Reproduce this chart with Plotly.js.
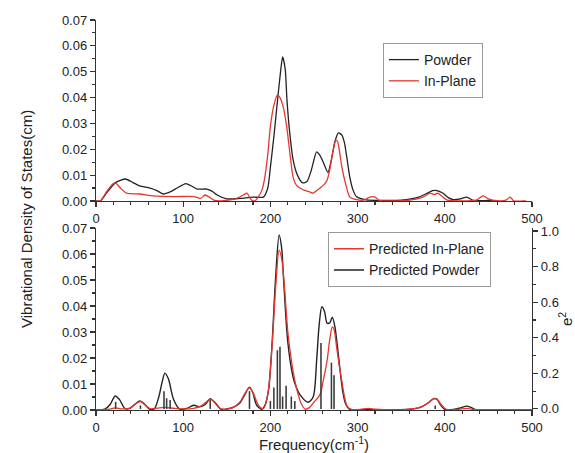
<!DOCTYPE html>
<html>
<head>
<meta charset="utf-8">
<script src="https://cdn.plot.ly/plotly-3.0.1.min.js"></script>
<style>html,body{margin:0;padding:0;background:#fff;}#chart{width:575px;height:453px;}</style>
</head>
<body>
<div id="chart"></div>
<script>
// ---- Top panel: measured DOS ----
const topPowderFreq = [0,5,12,22,34,42,50,62,70,77,85,93,103,110,116,127,133,139,150,165,180,192,197,200,204,207,211,214,217,219,222,226,231,237,242,247,253,257,261,266,270,274,278,282,285,288,291,295,299,310,330,350,370,380,386,391,398,404,410,418,425,433,450,460];
const topPowderDOS  = [0,0,0.003,0.007,0.0085,0.0072,0.0058,0.005,0.004,0.0027,0.0035,0.005,0.0067,0.0057,0.0046,0.0046,0.0038,0.0023,0.0008,0.001,0.0015,0.0015,0.005,0.013,0.025,0.035,0.048,0.0557,0.051,0.039,0.027,0.016,0.010,0.007,0.0075,0.012,0.019,0.0175,0.0147,0.011,0.016,0.023,0.0263,0.0255,0.0224,0.016,0.0093,0.004,0.0016,0.0004,0.0002,0.0003,0.0015,0.003,0.004,0.004,0.003,0.0013,0.0005,0.0008,0.0015,0.0002,0.0002,0];

const topInPlaneFreq = [0,5,12,20,23,28,35,50,66,90,112,120,125,130,135,143,160,169,173,178,182,186,190,193,197,200,204,208,211,215,219,226,230,234,240,245,249,253,257,262,265,268,271,275,277,279,282,286,291,299,308,314,320,325,340,360,375,383,388,392,396,403,420,436,444,450,460,470,475,479,490,493];
const topInPlaneDOS  = [0,0,0.0035,0.0068,0.0068,0.005,0.003,0.0027,0.002,0.0017,0.0017,0.001,0.0023,0.0015,0.0003,0,0.0008,0.0023,0.003,0.0005,0,0.0015,0.004,0.008,0.018,0.029,0.037,0.041,0.040,0.036,0.028,0.0093,0.006,0.005,0.004,0.0035,0.003,0.004,0.005,0.0065,0.008,0.012,0.018,0.0235,0.023,0.0197,0.013,0.007,0.0016,0.0005,0.0004,0.0015,0.0015,0.0002,0,0.0003,0.0015,0.003,0.0025,0.003,0.002,0.0003,0,0.0003,0.002,0.0008,0.0001,0.0003,0.0015,0,0,0];

// ---- Bottom panel: predicted DOS ----
const predPowderFreq = [0,10,16,22,27,33,38,44,50,55,62,67,72,76,79,83,89,96,104,112,119,125,131,136,143,150,157,165,170,176,180,184,190,194,198,202,206,210,213,215,220,226,230,234,243,249,253,256,259,262,265,268,271,274,277,280,283,286,291,310,330,360,372,380,387,391,395,400,410,418,425,430,436,450,500];
const predPowderDOS  = [0,0.0003,0.002,0.0054,0.004,0.0006,0.0005,0.002,0.0035,0.0025,0.0002,0.0005,0.005,0.011,0.0142,0.012,0.004,0.0003,0.0006,0.0018,0.0012,0.002,0.0043,0.003,0.0003,0.0004,0.001,0.0027,0.0055,0.0088,0.0065,0.002,0.0003,0.002,0.008,0.026,0.051,0.0673,0.062,0.051,0.026,0.0127,0.0085,0.0058,0.003,0.005,0.019,0.033,0.0397,0.038,0.0334,0.0335,0.0357,0.032,0.024,0.015,0.007,0.0026,0.0002,0.0003,0,0.0003,0.001,0.0025,0.0043,0.0042,0.002,0.0002,0.0002,0.0008,0.0015,0.001,0.0001,0,0];

const predInPlaneFreq = [0,15,22,30,40,46,51,56,62,70,79,90,100,112,120,126,131,137,143,152,160,166,171,176,181,186,192,197,202,206,210,213,216,220,226,231,236,240,245,250,257,261,265,268,271,273,276,279,282,285,288,293,305,312,320,340,365,375,382,388,392,396,402,415,425,435,450,500];
const predInPlaneDOS  = [0,0.0003,0.0008,0.0004,0.0008,0.0025,0.0032,0.002,0.0005,0.0007,0.001,0.0006,0.0004,0.0006,0.0015,0.003,0.0042,0.0028,0.0005,0.0004,0.0015,0.0035,0.0065,0.0085,0.006,0.002,0.0005,0.006,0.025,0.047,0.0615,0.058,0.048,0.030,0.015,0.007,0.002,0.0003,0.001,0.003,0.006,0.012,0.019,0.027,0.032,0.031,0.024,0.017,0.011,0.005,0.0015,0.0002,0.0003,0.0006,0.0003,0,0.0005,0.0015,0.003,0.0045,0.0038,0.002,0.0002,0.0002,0.0006,0.0001,0,0];

// ---- e^2 stick spectrum ----
const stickFreq = [22.5,51,78,81,85,131,176,200,204,208,211,214,218,224,228,258,270,273,389];
const stickE2   = [0.04,0.02,0.10,0.06,0.05,0.05,0.10,0.045,0.12,0.33,0.35,0.07,0.13,0.07,0.045,0.37,0.26,0.19,0.02];

const BLACK = '#222222';
const RED = '#e8362f';
const FONT = 'Liberation Sans, Arial, sans-serif';

const traces = [
  {x: topPowderFreq, y: topPowderDOS, type:'scatter', mode:'lines', name:'Powder',
   line:{color:BLACK, width:1.3, shape:'spline', smoothing:0.6}, xaxis:'x', yaxis:'y', legend:'legend'},
  {x: topInPlaneFreq, y: topInPlaneDOS, type:'scatter', mode:'lines', name:'In-Plane',
   line:{color:RED, width:1.3, shape:'spline', smoothing:0.6}, xaxis:'x', yaxis:'y', legend:'legend'},
  {x: stickFreq, y: stickE2, type:'bar', name:'e2', showlegend:false,
   marker:{color:'#3a3a3a', line:{width:0}}, width:1.8, xaxis:'x2', yaxis:'y3'},
  {x: predPowderFreq, y: predPowderDOS, type:'scatter', mode:'lines', name:'Predicted Powder',
   line:{color:BLACK, width:1.4, shape:'spline', smoothing:0.8}, xaxis:'x2', yaxis:'y2', legend:'legend2'},
  {x: predInPlaneFreq, y: predInPlaneDOS, type:'scatter', mode:'lines', name:'Predicted In-Plane',
   line:{color:RED, width:1.3, shape:'spline', smoothing:0.8}, xaxis:'x2', yaxis:'y2', legend:'legend2'}
];

const axisCommon = {
  showgrid:false, zeroline:false, showline:true, linecolor:'#333', linewidth:1.2,
  ticks:'outside', ticklen:5, tickwidth:1.1, tickcolor:'#333',
  tickfont:{family:FONT, size:13, color:'#222'}
};

const layout = {
  width:575, height:453,
  margin:{l:96, r:43, t:20, b:43},
  paper_bgcolor:'#fff', plot_bgcolor:'#fff',
  font:{family:FONT, color:'#222'},
  barmode:'overlay',
  xaxis: Object.assign({}, axisCommon, {domain:[0,1], range:[0,500], dtick:100, tick0:0, anchor:'y',
    minor:{dtick:20, ticklen:3, ticks:'outside', tickcolor:'#333'}}),
  yaxis: Object.assign({}, axisCommon, {domain:[0.536,1], range:[0,0.07], dtick:0.01, tickformat:'.2f', anchor:'x',
    minor:{dtick:0.005, ticklen:3, ticks:'outside', tickcolor:'#333'}}),
  xaxis2: Object.assign({}, axisCommon, {domain:[0,1], range:[0,500], dtick:100, tick0:0, anchor:'y2',
    minor:{dtick:20, ticklen:3, ticks:'outside', tickcolor:'#333'},
    title:{text:'Frequency(cm<sup>-1</sup>)', font:{family:FONT, size:15, color:'#222'}, standoff:2}}),
  yaxis2: Object.assign({}, axisCommon, {domain:[0,0.4667], range:[0,0.07], dtick:0.01, tickformat:'.2f', anchor:'x2',
    minor:{dtick:0.005, ticklen:3, ticks:'outside', tickcolor:'#333'}}),
  yaxis3: Object.assign({}, axisCommon, {overlaying:'y2', side:'right', anchor:'x2', range:[-0.006,1.017],
    dtick:0.2, tick0:0, tickformat:'.1f',
    minor:{dtick:0.1, ticklen:3, ticks:'outside', tickcolor:'#333'},
    title:{text:'e<sup>2</sup>', font:{family:FONT, size:15, color:'#222'}, standoff:4}}),
  legend:{x:0.658, y:0.941, xanchor:'left', yanchor:'top', bgcolor:'#fff',
    bordercolor:'#999', borderwidth:1, font:{family:FONT, size:14, color:'#222'},
    tracegroupgap:0},
  legend2:{x:0.532, y:0.456, xanchor:'left', yanchor:'top', bgcolor:'#fff',
    bordercolor:'#999', borderwidth:1, font:{family:FONT, size:14, color:'#222'},
    traceorder:'reversed'},
  annotations:[
    {text:'Vibrational Density of States(cm)', xref:'paper', yref:'paper',
     x:-0.158, y:0.49, textangle:-90, showarrow:false, xanchor:'center', yanchor:'middle',
     font:{family:FONT, size:15, color:'#222'}}
  ]
};

Plotly.newPlot('chart', traces, layout, {displayModeBar:false, staticPlot:true});
</script>
</body>
</html>
